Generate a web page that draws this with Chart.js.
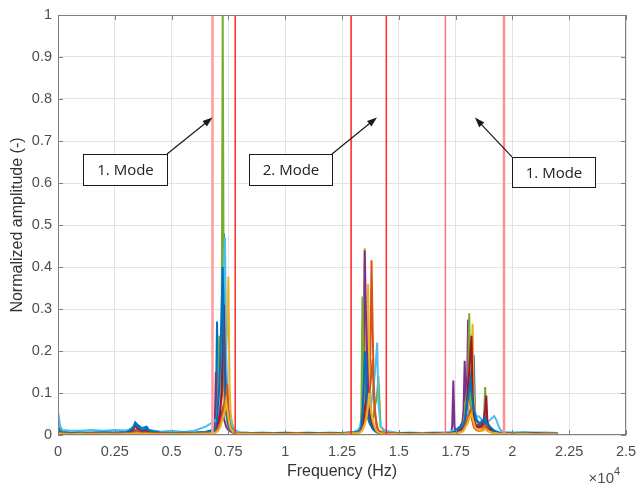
<!DOCTYPE html>
<html>
<head>
<meta charset="utf-8">
<script src="https://cdn.jsdelivr.net/npm/chart.js@4.4.0/dist/chart.umd.min.js"></script>
<style>
  html, body { margin: 0; padding: 0; background: #fff; }
  #wrap { width: 638px; height: 484px; }
</style>
</head>
<body>
<div id="wrap"><canvas id="spec" width="638" height="484"></canvas></div>
<script>
// frequency grid, in units of 1e4 Hz (finer around the three peak groups)
const freq = [
  0, 0.01, 0.02, 0.05, 0.1, 0.15, 0.2, 0.25, 0.3, 0.33, 0.34, 0.35, 0.37, 0.39, 0.4, 0.45, 0.5, 0.55, 0.6, 0.65,
  0.68, 0.69, 0.695, 0.7, 0.705, 0.71, 0.715, 0.72, 0.725, 0.73, 0.735, 0.74, 0.745, 0.75, 0.755, 0.76, 0.77, 0.78,
  0.8, 0.85, 0.9, 0.95, 1, 1.05, 1.1, 1.15, 1.2, 1.25, 1.3,
  1.32, 1.33, 1.335, 1.34, 1.345, 1.35, 1.355, 1.36, 1.365, 1.37, 1.375, 1.38, 1.385, 1.39, 1.395, 1.4, 1.405, 1.41, 1.42, 1.44,
  1.5, 1.55, 1.6, 1.65, 1.7,
  1.73, 1.735, 1.74, 1.745, 1.75, 1.77, 1.78, 1.785, 1.79, 1.795, 1.8, 1.805, 1.81, 1.815, 1.82, 1.825,
  1.83, 1.835, 1.84, 1.85, 1.86, 1.87, 1.875, 1.88, 1.885, 1.89, 1.9, 1.91, 1.92, 1.93, 1.94, 1.95,
  1.97, 2, 2.05, 2.1, 2.15, 2.2
];

// normalized amplitude per sensor channel
const ampBlue = [
  0.02, 0.012, 0.008, 0.006, 0.005, 0.006, 0.007, 0.006, 0.008, 0.018, 0.03, 0.024, 0.016, 0.02, 0.012, 0.007, 0.006, 0.005, 0.006, 0.008,
  0.012, 0.02, 0.06, 0.27, 0.1, 0.08, 0.12, 0.2, 0.35, 0.48, 0.3, 0.15, 0.08, 0.05, 0.03, 0.02, 0.012, 0.008,
  0.006, 0.005, 0.004, 0.005, 0.004, 0.005, 0.004, 0.005, 0.004, 0.005, 0.006,
  0.008, 0.015, 0.03, 0.08, 0.25, 0.2, 0.1, 0.06, 0.04, 0.03, 0.025, 0.02, 0.015, 0.012, 0.01, 0.008, 0.007, 0.006, 0.005, 0.004,
  0.004, 0.003, 0.004, 0.003, 0.004,
  0.005, 0.006, 0.008, 0.01, 0.012, 0.02, 0.03, 0.04, 0.05, 0.06, 0.08, 0.1, 0.12, 0.14, 0.15, 0.12,
  0.19, 0.06, 0.04, 0.03, 0.025, 0.03, 0.04, 0.06, 0.04, 0.03, 0.02, 0.015, 0.01, 0.008, 0.006, 0.005,
  0.004, 0.004, 0.003, 0.004, 0.003, 0.003
];
const ampOrange = [
  0.008, 0.006, 0.005, 0.004, 0.004, 0.004, 0.005, 0.004, 0.005, 0.008, 0.012, 0.01, 0.008, 0.009, 0.007, 0.005, 0.008, 0.006, 0.005, 0.006,
  0.008, 0.01, 0.015, 0.025, 0.04, 0.06, 0.08, 0.12, 0.1, 0.14, 0.18, 0.1, 0.06, 0.04, 0.025, 0.015, 0.01, 0.006,
  0.005, 0.004, 0.005, 0.004, 0.005, 0.004, 0.005, 0.004, 0.005, 0.004, 0.006,
  0.007, 0.01, 0.015, 0.02, 0.03, 0.05, 0.08, 0.17, 0.1, 0.12, 0.2, 0.416, 0.25, 0.12, 0.06, 0.035, 0.02, 0.012, 0.008, 0.005,
  0.004, 0.005, 0.004, 0.003, 0.004,
  0.004, 0.005, 0.005, 0.006, 0.007, 0.01, 0.015, 0.02, 0.03, 0.04, 0.05, 0.07, 0.09, 0.1, 0.12, 0.08,
  0.05, 0.035, 0.025, 0.02, 0.015, 0.02, 0.025, 0.03, 0.02, 0.015, 0.012, 0.01, 0.008, 0.006, 0.005, 0.004,
  0.004, 0.003, 0.004, 0.003, 0.004, 0.003
];
const ampYellow = [
  0.006, 0.005, 0.004, 0.004, 0.003, 0.004, 0.003, 0.004, 0.003, 0.004, 0.005, 0.004, 0.004, 0.005, 0.004, 0.003, 0.004, 0.003, 0.004, 0.005,
  0.006, 0.008, 0.01, 0.015, 0.02, 0.025, 0.035, 0.05, 0.06, 0.08, 0.12, 0.2, 0.25, 0.377, 0.12, 0.05, 0.02, 0.01,
  0.005, 0.004, 0.004, 0.003, 0.004, 0.003, 0.004, 0.003, 0.004, 0.004, 0.005,
  0.006, 0.01, 0.02, 0.04, 0.1, 0.445, 0.2, 0.12, 0.36, 0.15, 0.08, 0.05, 0.03, 0.02, 0.015, 0.01, 0.008, 0.006, 0.005, 0.004,
  0.003, 0.004, 0.003, 0.004, 0.003,
  0.004, 0.004, 0.005, 0.006, 0.006, 0.008, 0.01, 0.015, 0.02, 0.03, 0.05, 0.08, 0.12, 0.18, 0.2, 0.265,
  0.1, 0.05, 0.03, 0.02, 0.015, 0.012, 0.015, 0.02, 0.015, 0.01, 0.008, 0.006, 0.005, 0.004, 0.004, 0.003,
  0.003, 0.003, 0.003, 0.003, 0.003, 0.003
];
const ampPurple = [
  0.01, 0.008, 0.006, 0.005, 0.004, 0.005, 0.004, 0.005, 0.004, 0.006, 0.008, 0.007, 0.006, 0.006, 0.005, 0.005, 0.004, 0.005, 0.004, 0.005,
  0.008, 0.02, 0.15, 0.06, 0.04, 0.03, 0.04, 0.05, 0.06, 0.04, 0.03, 0.02, 0.015, 0.012, 0.01, 0.008, 0.006, 0.005,
  0.004, 0.004, 0.003, 0.004, 0.003, 0.004, 0.003, 0.004, 0.003, 0.004, 0.005,
  0.006, 0.01, 0.02, 0.05, 0.15, 0.44, 0.3, 0.2, 0.1, 0.06, 0.04, 0.03, 0.02, 0.015, 0.01, 0.008, 0.006, 0.005, 0.004, 0.004,
  0.003, 0.003, 0.004, 0.003, 0.003,
  0.006, 0.02, 0.13, 0.02, 0.01, 0.015, 0.03, 0.06, 0.177, 0.08, 0.1, 0.275, 0.15, 0.08, 0.05, 0.035,
  0.025, 0.02, 0.02, 0.025, 0.02, 0.03, 0.04, 0.05, 0.03, 0.02, 0.015, 0.01, 0.008, 0.006, 0.005, 0.004,
  0.004, 0.003, 0.003, 0.003, 0.003, 0.003
];
const ampGreen = [
  0.012, 0.01, 0.007, 0.005, 0.004, 0.005, 0.004, 0.005, 0.004, 0.005, 0.006, 0.006, 0.005, 0.005, 0.004, 0.004, 0.005, 0.004, 0.005, 0.006,
  0.008, 0.012, 0.02, 0.05, 0.1, 0.236, 0.1, 0.15, 1.0, 0.2, 0.08, 0.05, 0.03, 0.02, 0.015, 0.01, 0.007, 0.005,
  0.004, 0.004, 0.005, 0.004, 0.004, 0.003, 0.004, 0.004, 0.003, 0.004, 0.006,
  0.008, 0.02, 0.04, 0.33, 0.12, 0.08, 0.06, 0.05, 0.04, 0.035, 0.03, 0.035, 0.04, 0.05, 0.07, 0.08, 0.1, 0.14, 0.02, 0.006,
  0.004, 0.003, 0.004, 0.003, 0.004,
  0.004, 0.005, 0.005, 0.006, 0.007, 0.01, 0.02, 0.03, 0.05, 0.08, 0.1, 0.12, 0.29, 0.08, 0.05, 0.04,
  0.03, 0.025, 0.02, 0.018, 0.02, 0.025, 0.04, 0.114, 0.04, 0.025, 0.015, 0.01, 0.008, 0.006, 0.005, 0.004,
  0.003, 0.004, 0.003, 0.003, 0.003, 0.003
];
const ampCyan = [
  0.055, 0.02, 0.012, 0.01, 0.01, 0.012, 0.01, 0.012, 0.011, 0.015, 0.02, 0.018, 0.014, 0.012, 0.01, 0.008, 0.01, 0.007, 0.01, 0.02,
  0.03, 0.035, 0.03, 0.04, 0.06, 0.08, 0.1, 0.15, 0.3, 0.4, 0.47, 0.2, 0.1, 0.06, 0.04, 0.03, 0.02, 0.012,
  0.006, 0.005, 0.006, 0.005, 0.006, 0.005, 0.006, 0.005, 0.006, 0.005, 0.007,
  0.012, 0.02, 0.025, 0.03, 0.05, 0.08, 0.1, 0.08, 0.06, 0.05, 0.06, 0.08, 0.1, 0.12, 0.15, 0.18, 0.22, 0.08, 0.02, 0.01,
  0.005, 0.006, 0.005, 0.006, 0.006,
  0.008, 0.01, 0.012, 0.01, 0.01, 0.015, 0.02, 0.025, 0.03, 0.04, 0.05, 0.06, 0.05, 0.045, 0.04, 0.035,
  0.03, 0.035, 0.04, 0.045, 0.04, 0.03, 0.035, 0.04, 0.035, 0.03, 0.035, 0.04, 0.045, 0.035, 0.02, 0.01,
  0.007, 0.006, 0.007, 0.006, 0.006, 0.005
];
const ampMaroon = [
  0.008, 0.006, 0.005, 0.004, 0.005, 0.004, 0.005, 0.004, 0.005, 0.012, 0.022, 0.015, 0.01, 0.012, 0.008, 0.005, 0.004, 0.005, 0.004, 0.005,
  0.006, 0.01, 0.015, 0.02, 0.03, 0.04, 0.06, 0.1, 0.2, 0.31, 0.15, 0.1, 0.05, 0.03, 0.02, 0.012, 0.008, 0.005,
  0.004, 0.005, 0.004, 0.004, 0.005, 0.004, 0.004, 0.005, 0.004, 0.004, 0.005,
  0.006, 0.008, 0.012, 0.02, 0.04, 0.06, 0.08, 0.12, 0.08, 0.05, 0.04, 0.03, 0.025, 0.02, 0.015, 0.01, 0.008, 0.006, 0.005, 0.005,
  0.004, 0.004, 0.003, 0.004, 0.003,
  0.004, 0.005, 0.006, 0.006, 0.007, 0.01, 0.015, 0.02, 0.03, 0.05, 0.08, 0.12, 0.15, 0.2, 0.236, 0.1,
  0.05, 0.03, 0.02, 0.018, 0.02, 0.025, 0.04, 0.06, 0.094, 0.03, 0.015, 0.01, 0.008, 0.006, 0.005, 0.004,
  0.004, 0.003, 0.003, 0.004, 0.003, 0.003
];
const ampBlue2 = [
  0.012, 0.008, 0.006, 0.005, 0.006, 0.005, 0.006, 0.005, 0.006, 0.015, 0.025, 0.02, 0.012, 0.015, 0.01, 0.006, 0.005, 0.006, 0.005, 0.006,
  0.008, 0.012, 0.02, 0.04, 0.08, 0.12, 0.2, 0.3, 0.4, 0.2, 0.1, 0.06, 0.04, 0.025, 0.015, 0.01, 0.007, 0.005,
  0.005, 0.004, 0.005, 0.004, 0.004, 0.005, 0.004, 0.004, 0.005, 0.004, 0.006,
  0.007, 0.012, 0.02, 0.05, 0.1, 0.2, 0.18, 0.08, 0.05, 0.035, 0.025, 0.02, 0.015, 0.012, 0.01, 0.008, 0.006, 0.005, 0.005, 0.004,
  0.003, 0.004, 0.003, 0.004, 0.003,
  0.005, 0.006, 0.007, 0.008, 0.01, 0.015, 0.02, 0.025, 0.035, 0.05, 0.07, 0.09, 0.11, 0.13, 0.1, 0.08,
  0.06, 0.05, 0.035, 0.03, 0.03, 0.035, 0.03, 0.04, 0.03, 0.025, 0.02, 0.015, 0.01, 0.008, 0.006, 0.005,
  0.004, 0.003, 0.004, 0.003, 0.003, 0.003
];
const ampOrange2 = [
  0.006, 0.005, 0.004, 0.003, 0.003, 0.004, 0.003, 0.004, 0.003, 0.005, 0.007, 0.006, 0.005, 0.005, 0.004, 0.004, 0.003, 0.004, 0.003, 0.004,
  0.005, 0.006, 0.008, 0.01, 0.015, 0.02, 0.03, 0.04, 0.05, 0.07, 0.06, 0.09, 0.12, 0.06, 0.03, 0.015, 0.008, 0.005,
  0.004, 0.003, 0.004, 0.003, 0.003, 0.004, 0.003, 0.003, 0.004, 0.003, 0.004,
  0.005, 0.008, 0.01, 0.015, 0.02, 0.03, 0.04, 0.06, 0.08, 0.1, 0.12, 0.15, 0.18, 0.1, 0.05, 0.03, 0.015, 0.01, 0.006, 0.004,
  0.003, 0.003, 0.003, 0.003, 0.003,
  0.003, 0.004, 0.004, 0.005, 0.005, 0.007, 0.01, 0.015, 0.02, 0.025, 0.035, 0.045, 0.05, 0.06, 0.045, 0.03,
  0.02, 0.015, 0.012, 0.01, 0.01, 0.012, 0.015, 0.02, 0.015, 0.01, 0.008, 0.006, 0.005, 0.004, 0.003, 0.003,
  0.003, 0.003, 0.003, 0.002, 0.003, 0.002
];
const ampYellow2 = [
  0.004, 0.003, 0.003, 0.002, 0.003, 0.002, 0.003, 0.002, 0.003, 0.003, 0.004, 0.004, 0.003, 0.003, 0.003, 0.002, 0.003, 0.002, 0.003, 0.003,
  0.004, 0.005, 0.006, 0.008, 0.01, 0.015, 0.02, 0.03, 0.04, 0.05, 0.06, 0.08, 0.06, 0.04, 0.025, 0.015, 0.008, 0.004,
  0.003, 0.003, 0.002, 0.003, 0.002, 0.003, 0.002, 0.003, 0.002, 0.003, 0.004,
  0.004, 0.006, 0.008, 0.012, 0.018, 0.025, 0.035, 0.05, 0.07, 0.1, 0.07, 0.05, 0.035, 0.025, 0.018, 0.012, 0.008, 0.006, 0.004, 0.003,
  0.003, 0.002, 0.003, 0.002, 0.003,
  0.003, 0.003, 0.004, 0.004, 0.004, 0.006, 0.008, 0.01, 0.015, 0.02, 0.025, 0.03, 0.04, 0.045, 0.05, 0.04,
  0.03, 0.02, 0.015, 0.012, 0.01, 0.01, 0.012, 0.015, 0.012, 0.01, 0.008, 0.006, 0.005, 0.004, 0.003, 0.003,
  0.003, 0.002, 0.003, 0.002, 0.002, 0.002
];

const channels = [ampBlue, ampOrange, ampYellow, ampPurple, ampGreen, ampCyan, ampMaroon, ampBlue2, ampOrange2, ampYellow2];
const channelColors = ['#0072BD', '#D95319', '#EDB120', '#7E2F8E', '#77AC30', '#4DBEEE', '#A2142F', '#0072BD', '#D95319', '#EDB120'];

// band limits of the identified modes (1e4 Hz)
const modeBounds = [0.68, 0.78, 1.29, 1.445, 1.705, 1.963];
const boundColors = ['#ff9c9c', '#ff2a2a', '#ff1f1f', '#ff2a2a', '#ff7474', '#ff9090'];
const boundWidths = [2.5, 1.5, 1.5, 1.5, 1.5, 2.5];

const xTicks = [0, 0.25, 0.5, 0.75, 1, 1.25, 1.5, 1.75, 2, 2.25, 2.5];
const xTickLabels = ['0', '0.25', '0.5', '0.75', '1', '1.25', '1.5', '1.75', '2', '2.25', '2.5'];
const yTicks = [0, 0.1, 0.2, 0.3, 0.4, 0.5, 0.6, 0.7, 0.8, 0.9, 1];
const yTickLabels = ['0', '0.1', '0.2', '0.3', '0.4', '0.5', '0.6', '0.7', '0.8', '0.9', '1'];

const modeLabels = ['1. Mode', '2. Mode', '1. Mode'];
// text boxes + arrows, placed in axis units: box = [x0, yTop, x1, yBottom]
const notes = [
  { box: [0.110, 0.669, 0.480, 0.595], tail: [0.480, 0.669], head: [0.680, 0.756] },
  { box: [0.841, 0.669, 1.206, 0.595], tail: [1.206, 0.669], head: [1.404, 0.756] },
  { box: [1.998, 0.662, 2.364, 0.591], tail: [1.998, 0.662], head: [1.835, 0.756] }
];

const FONT = "'Liberation Sans', Arial, sans-serif";

const datasets = channels.map((amp, i) => ({
  data: freq.map((f, k) => ({ x: f, y: amp[k] })),
  borderColor: channelColors[i],
  borderWidth: 2,
  pointRadius: 0,
  fill: false,
  order: channels.length - i + 1
}));
modeBounds.forEach((f, i) => {
  datasets.push({
    data: [{ x: f, y: 0 }, { x: f, y: 1 }],
    borderColor: boundColors[i],
    borderWidth: boundWidths[i],
    pointRadius: 0,
    fill: false,
    order: 0
  });
});

// no extra room for half tick labels, the plot box is placed exactly
const noLabelPad = s => { s.paddingLeft = 0; s.paddingRight = 0; s.paddingTop = 0; s.paddingBottom = 0; };

const boxPlugin = {
  id: 'matlabBox',
  afterDatasetsDraw(chart) {
    const { ctx, chartArea: a, scales: { x, y } } = chart;
    ctx.save();

    // axes frame with inward ticks
    ctx.strokeStyle = '#808080';
    ctx.lineWidth = 1;
    ctx.strokeRect(a.left + 0.5, a.top + 0.5, a.right - a.left - 1, a.bottom - a.top - 1);
    ctx.beginPath();
    xTicks.forEach(v => {
      const px = Math.round(x.getPixelForValue(v)) + 0.5;
      ctx.moveTo(px, a.bottom); ctx.lineTo(px, a.bottom - 5);
      ctx.moveTo(px, a.top); ctx.lineTo(px, a.top + 5);
    });
    yTicks.forEach(v => {
      const py = Math.round(y.getPixelForValue(v)) + 0.5;
      ctx.moveTo(a.left, py); ctx.lineTo(a.left + 5, py);
      ctx.moveTo(a.right, py); ctx.lineTo(a.right - 5, py);
    });
    ctx.stroke();

    // annotations
    notes.forEach((n, i) => {
      const tx = x.getPixelForValue(n.tail[0]), ty = y.getPixelForValue(n.tail[1]);
      const hx = x.getPixelForValue(n.head[0]), hy = y.getPixelForValue(n.head[1]);
      const ang = Math.atan2(hy - ty, hx - tx);
      const len = 10, half = 3.5;
      ctx.strokeStyle = '#1a1a1a';
      ctx.fillStyle = '#1a1a1a';
      ctx.lineWidth = 1.2;
      ctx.beginPath();
      ctx.moveTo(tx, ty);
      ctx.lineTo(hx - Math.cos(ang) * len * 0.8, hy - Math.sin(ang) * len * 0.8);
      ctx.stroke();
      ctx.beginPath();
      ctx.moveTo(hx, hy);
      ctx.lineTo(hx - Math.cos(ang) * len - Math.sin(ang) * half, hy - Math.sin(ang) * len + Math.cos(ang) * half);
      ctx.lineTo(hx - Math.cos(ang) * len + Math.sin(ang) * half, hy - Math.sin(ang) * len - Math.cos(ang) * half);
      ctx.closePath();
      ctx.fill();

      const x0 = Math.round(x.getPixelForValue(n.box[0])) + 0.5;
      const x1 = Math.round(x.getPixelForValue(n.box[2])) + 0.5;
      const y0 = Math.round(y.getPixelForValue(n.box[1])) + 0.5;
      const y1 = Math.round(y.getPixelForValue(n.box[3])) + 0.5;
      ctx.fillStyle = '#ffffff';
      ctx.fillRect(x0, y0, x1 - x0, y1 - y0);
      ctx.lineWidth = 1;
      ctx.strokeRect(x0, y0, x1 - x0, y1 - y0);
      ctx.fillStyle = '#222';
      ctx.font = "15px 'Open Sans', sans-serif";
      ctx.textAlign = 'center';
      ctx.textBaseline = 'middle';
      ctx.fillText(modeLabels[i], (x0 + x1) / 2, (y0 + y1) / 2 + 1);
    });

    // exponent of the x axis
    ctx.fillStyle = '#4d4d4d';
    ctx.textBaseline = 'alphabetic';
    ctx.textAlign = 'right';
    ctx.font = '15px ' + FONT;
    ctx.fillText('\u00d710', a.right - 12, 483);
    ctx.textAlign = 'left';
    ctx.font = '11px ' + FONT;
    ctx.fillText('4', a.right - 12, 475);
    ctx.restore();
  }
};

new Chart(document.getElementById('spec').getContext('2d'), {
  type: 'line',
  data: { datasets },
  options: {
    responsive: false,
    animation: false,
    events: [],
    layout: { padding: { top: 15, right: 12, left: 0, bottom: 0 } },
    plugins: { legend: { display: false }, tooltip: { enabled: false } },
    scales: {
      x: {
        type: 'linear',
        min: 0,
        max: 2.5,
        afterBuildTicks: s => { s.ticks = xTicks.map(v => ({ value: v })); },
        afterFit: s => { s.height = 49; noLabelPad(s); },
        grid: { color: '#e3e3e3', lineWidth: 1, drawTicks: false },
        border: { display: false },
        ticks: {
          autoSkip: false, maxRotation: 0, padding: 8, color: '#4d4d4d',
          font: { family: FONT, size: 14.5 },
          callback: v => xTickLabels[xTicks.indexOf(v)]
        },
        title: {
          display: true, text: 'Frequency (Hz)', color: '#333',
          font: { family: FONT, size: 16 }, padding: { top: 0, bottom: 3 }
        }
      },
      y: {
        type: 'linear',
        min: 0,
        max: 1,
        afterBuildTicks: s => { s.ticks = yTicks.map(v => ({ value: v })); },
        afterFit: s => { s.width = 58; noLabelPad(s); },
        grid: { color: '#e3e3e3', lineWidth: 1, drawTicks: false },
        border: { display: false },
        ticks: {
          autoSkip: false, padding: 6, color: '#4d4d4d',
          font: { family: FONT, size: 14.5 },
          callback: v => yTickLabels[yTicks.indexOf(v)]
        },
        title: {
          display: true, text: 'Normalized amplitude (-)', color: '#333',
          font: { family: FONT, size: 16 }, padding: { top: 8, bottom: 0 }
        }
      }
    }
  },
  plugins: [boxPlugin]
});
</script>
</body>
</html>
